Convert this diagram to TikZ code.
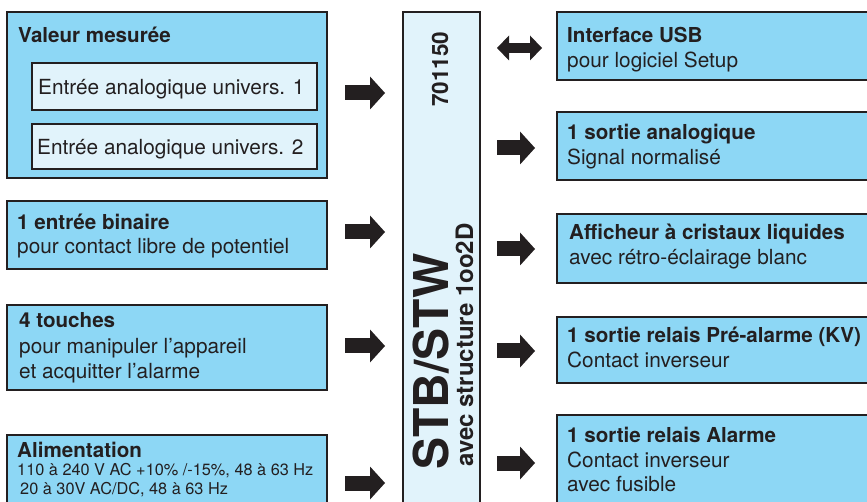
\documentclass[tikz,border=0pt]{standalone}
\usepackage{fontspec}
\setmainfont{TeX Gyre Heros}
\usetikzlibrary{arrows.meta}
\definecolor{ink}{HTML}{231F20}
\definecolor{boxblue}{HTML}{8DD7F5}
\definecolor{paleblue}{HTML}{E1F3FB}
\tikzset{
  bluebox/.style={draw=ink, fill=boxblue, line width=1.6pt, inner sep=0pt, outer sep=0pt, anchor=north west},
  palebox/.style={draw=ink, fill=paleblue, line width=1.6pt, inner sep=0pt, outer sep=0pt, anchor=north west},
  txt/.style={inner sep=0pt, anchor=base west, text=ink, font=\fontsize{20.8}{24}\selectfont},
  btxt/.style={txt, font=\fontsize{20.6}{24}\selectfont\bfseries},
  stxt/.style={txt, font=\fontsize{16.3}{19}\selectfont},
  fatarrow/.style={draw=ink, line width=15pt, -{Triangle[length=15pt,width=33pt,line width=0pt]}},
  dblarrow/.style={draw=ink, line width=10pt, {Triangle[length=12pt,width=25pt,line width=0pt]}-{Triangle[length=12pt,width=25pt,line width=0pt]}}
}
\begin{document}
\begin{tikzpicture}[x=1pt,y=-1pt]
\useasboundingbox (0,0) rectangle (867,502);
\clip (0,0) rectangle (867,502);
% left boxes
\node[bluebox, minimum width=320pt, minimum height=166pt] (vm) at (7,12) {};
\node[palebox, minimum width=285pt, minimum height=47pt] (ea1) at (32,63) {};
\node[palebox, minimum width=285pt, minimum height=45pt] (ea2) at (32,124) {};
\node[bluebox, minimum width=320pt, minimum height=68pt] (eb) at (7,201) {};
\node[bluebox, minimum width=320pt, minimum height=85pt] (tc) at (7,305) {};
\node[bluebox, minimum width=320pt, minimum height=80pt] (al) at (7,435) {};
% left texts
\node[btxt] (tvm) at (18,43) {Valeur mesurée};
\node[txt] (tea1) at (38,95) {Entrée analogique univers. 1};
\node[txt] (tea2) at (37,155) {Entrée analogique univers. 2};
\node[btxt] (teb1) at (17,230) {1 entrée binaire};
\node[txt] (teb2) at (17,254) {pour contact libre de potentiel};
\node[btxt] (ttc1) at (19,328) {4 touches};
\node[txt] (ttc2) at (19,353) {pour manipuler l’appareil};
\node[txt] (ttc3) at (19,378) {et acquitter l’alarme};
\node[btxt] (tal1) at (17,457) {Alimentation};
\node[stxt] (tal2) at (17,475) {110 à 240 V AC +10\% /-15\%, 48 à 63 Hz};
\node[stxt] (tal3) at (20,494) {20 à 30V AC/DC, 48 à 63 Hz};
% center bar
\node[palebox, minimum width=77pt, minimum height=520pt] (bar) at (403,12) {};
\node[inner sep=0pt, anchor=base west, rotate=90, text=ink, font=\fontsize{48}{50}\selectfont\bfseries] (stb) at (448,470) {STB/STW};
\node[inner sep=0pt, anchor=base west, rotate=90, text=ink, font=\fontsize{24}{26}\selectfont\bfseries] (avec) at (473,467) {avec structure 1oo2D};
\node[inner sep=0pt, anchor=base west, rotate=90, text=ink, font=\fontsize{22.5}{24}\selectfont\bfseries] (num) at (448,107) {701150};
% right boxes
\node[bluebox, minimum width=330pt, minimum height=68pt] (usb) at (557,12) {};
\node[bluebox, minimum width=330pt, minimum height=68pt] (sa) at (557,112) {};
\node[bluebox, minimum width=330pt, minimum height=69pt] (lcd) at (557,214) {};
\node[bluebox, minimum width=330pt, minimum height=66pt] (pa) at (557,317) {};
\node[bluebox, minimum width=330pt, minimum height=100pt] (ra) at (557,415) {};
% right texts
\node[btxt] (tusb1) at (567,43) {Interface USB};
\node[txt] (tusb2) at (567,68) {pour logiciel Setup};
\node[btxt] (tsa1) at (567,140) {1 sortie analogique};
\node[txt] (tsa2) at (567,165) {Signal normalisé};
\node[btxt] (tlcd1) at (569,240) {Afficheur à cristaux liquides};
\node[txt] (tlcd2) at (569,265) {avec rétro-éclairage blanc};
\node[btxt] (tpa1) at (567,343) {1 sortie relais Pré-alarme (KV)};
\node[txt] (tpa2) at (567,367) {Contact inverseur};
\node[btxt] (tra1) at (567,442) {1 sortie relais Alarme};
\node[txt] (tra2) at (567,467) {Contact inverseur};
\node[txt] (tra3) at (567,491) {avec fusible};
% arrow end points
\coordinate (l1a) at (345,93); \coordinate (l1b) at (385,93);
\coordinate (l2a) at (345,232); \coordinate (l2b) at (385,232);
\coordinate (l3a) at (345,346); \coordinate (l3b) at (385,346);
\coordinate (l4a) at (345,483); \coordinate (l4b) at (385,483);
\coordinate (r0a) at (497,48); \coordinate (r0b) at (542,48);
\coordinate (r1a) at (497,148); \coordinate (r1b) at (535,148);
\coordinate (r2a) at (497,249); \coordinate (r2b) at (535,249);
\coordinate (r3a) at (497,351); \coordinate (r3b) at (535,351);
\coordinate (r4a) at (497,463); \coordinate (r4b) at (535,463);
\draw[fatarrow] (l1a) -- (l1b);
\draw[fatarrow] (l2a) -- (l2b);
\draw[fatarrow] (l3a) -- (l3b);
\draw[fatarrow] (l4a) -- (l4b);
\draw[dblarrow] (r0a) -- (r0b);
\draw[fatarrow] (r1a) -- (r1b);
\draw[fatarrow] (r2a) -- (r2b);
\draw[fatarrow] (r3a) -- (r3b);
\draw[fatarrow] (r4a) -- (r4b);
\end{tikzpicture}
\end{document}
